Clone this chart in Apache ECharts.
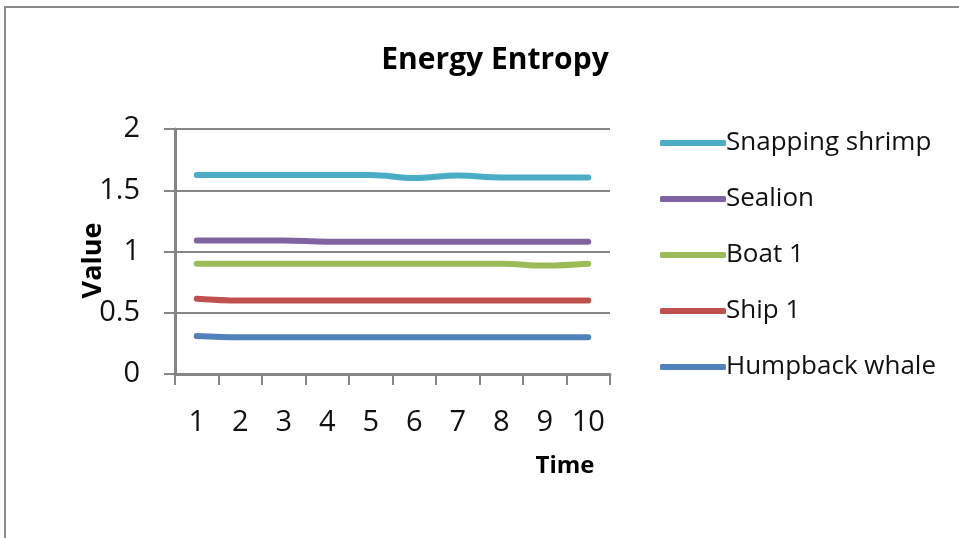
<!DOCTYPE html>
<html><head><meta charset="utf-8">
<script src="https://cdn.jsdelivr.net/npm/echarts@6/dist/echarts.min.js"></script>
<style>html,body{margin:0;padding:0;background:#fff}#c{width:959px;height:538px}</style>
</head><body><div id="c"></div>
<script>
const categories = ['1','2','3','4','5','6','7','8','9','10'];
const seriesNames = ['Snapping shrimp','Sealion','Boat 1','Ship 1','Humpback whale'];
const snappingShrimp = [1.625,1.625,1.625,1.625,1.625,1.60,1.62,1.605,1.605,1.605];
const sealion = [1.09,1.09,1.09,1.08,1.08,1.08,1.08,1.08,1.08,1.08];
const boat1 = [0.90,0.90,0.90,0.90,0.90,0.90,0.90,0.90,0.885,0.90];
const ship1 = [0.615,0.60,0.60,0.60,0.60,0.60,0.60,0.60,0.60,0.60];
const humpbackWhale = [0.31,0.30,0.30,0.30,0.30,0.30,0.30,0.30,0.30,0.30];
const colors = ['#4bacc6','#8064a2','#9bbb59','#c0504d','#4f81bd'];
const values = [snappingShrimp, sealion, boat1, ship1, humpbackWhale];
const font = 'Open Sans, Liberation Sans, sans-serif';

const chart = echarts.init(document.getElementById('c'), null, {renderer:'canvas'});
chart.setOption({
  animation: false,
  title: {
    text: 'Energy Entropy', left: 490, top: 40, textAlign: 'center',
    textStyle: {fontFamily: font, fontSize: 30, fontWeight: 'bold', color: '#000'}
  },
  graphic: [{
    type: 'rect', shape: {x: 5, y: 7, width: 1000, height: 600},
    style: {fill: 'none', stroke: '#8c8c8c', lineWidth: 2}, silent: true
  }],
  legend: {
    orient: 'vertical', left: 655, top: 122,
    itemWidth: 66, itemHeight: 6, itemGap: 24, icon: 'roundRect',
    textStyle: {fontFamily: font, fontSize: 26, color: '#111', lineHeight: 32, padding: [0,0,0,-5]},
    data: seriesNames
  },
  grid: {left: 175, right: 349, top: 129, bottom: 164},
  xAxis: {
    type: 'category', data: categories, boundaryGap: true,
    name: 'Time', nameLocation: 'end', nameGap: -45, nameMoveOverlap: false,
    nameTextStyle: {fontFamily: font, fontSize: 24, fontWeight: 'bold', color: '#000', align: 'center', verticalAlign: 'top', padding: [80,0,0,0]},
    axisLine: {lineStyle: {color: '#868686', width: 3}},
    axisTick: {show: true, length: 11, inside: false, alignWithLabel: false, lineStyle: {color: '#868686', width: 2}},
    axisLabel: {fontFamily: font, fontSize: 29, color: '#111', margin: 34, interval: 0}
  },
  yAxis: {
    type: 'value', min: 0, max: 2, interval: 0.5,
    name: 'Value', nameLocation: 'middle', nameGap: 68, nameRotate: 90, nameMoveOverlap: false,
    nameTextStyle: {fontFamily: font, fontSize: 27, fontWeight: 'bold', color: '#000', padding: [0,18,0,0]},
    axisLine: {show: true, lineStyle: {color: '#868686', width: 3}},
    axisTick: {show: true, length: 11, lineStyle: {color: '#868686', width: 2}},
    splitLine: {lineStyle: {color: '#868686', width: 2}},
    axisLabel: {fontFamily: font, fontSize: 29, color: '#111', margin: 35}
  },
  series: seriesNames.map((n, i) => ({
    name: n, type: 'line', data: values[i], smooth: 0.4,
    showSymbol: false, symbol: 'none',
    lineStyle: {color: colors[i], width: 6, cap: 'round'},
    itemStyle: {color: colors[i]}
  }))
});
</script></body></html>
